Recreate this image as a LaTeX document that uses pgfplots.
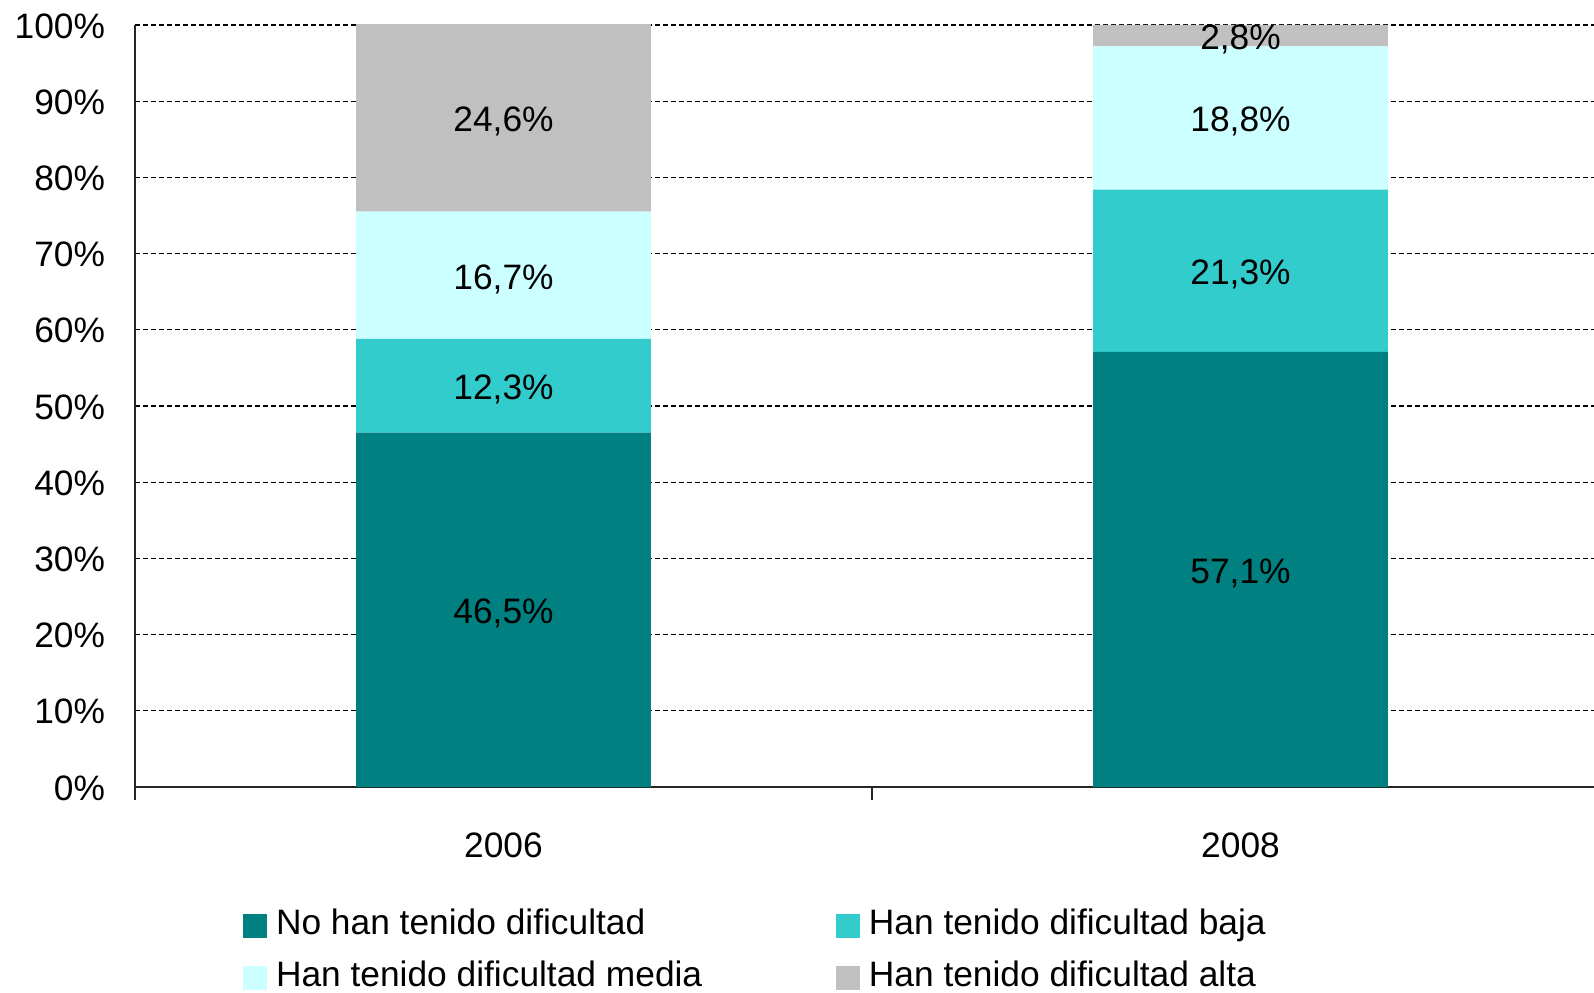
\documentclass[border=0pt]{standalone}
\usepackage{fontspec}
\setmainfont{Liberation Sans}
\usepackage{pgfplots}
\pgfplotsset{compat=1.18}
\usepackage{pgfplotstable}
\definecolor{cNone}{HTML}{008080}
\definecolor{cBaja}{HTML}{33CCCC}
\definecolor{cMedia}{HTML}{CCFFFF}
\definecolor{cAlta}{HTML}{C0C0C0}

\pgfplotstableread{
x none baja media alta
0 46.5 12.3 16.7 24.6
1 57.1 21.3 18.8 2.8
}\datatable

\pgfplotstableread{
x y v
0 23.25 46.5
0 52.65 12.3
0 67.15 16.7
0 87.8 24.6
1 28.55 57.1
1 67.75 21.3
1 87.8 18.8
1 98.6 2.8
}\labeltable

\begin{document}
\begin{tikzpicture}[font=\fontsize{10.6}{12.7}\selectfont]
\useasboundingbox (0,0) rectangle (478.2pt,297.6pt);
\begin{axis}[
  scale only axis,
  width=442.2pt, height=228.6pt,
  at={(40.5pt,61.5pt)}, anchor=south west,
  ybar stacked, bar width=0.4,
  xmin=-0.5, xmax=1.5, ymin=0, ymax=100,
  axis lines=left,
  axis line style={-, line width=0.6pt, black!85},
  xtick={-0.5,0.5,1.5},
  x tick label as interval,
  xticklabels={2006,2008},
  ytick={0,10,...,100},
  yticklabels={0\%,10\%,20\%,30\%,40\%,50\%,60\%,70\%,80\%,90\%,100\%},
  ymajorgrids,
  grid style={black, line width=0.4pt, dash pattern=on 1.5pt off 0.9pt},
  tick align=outside,
  xtick style={black!85, line width=0.6pt},
  ytick style={draw=none},
  major tick length=3.8pt,
  yticklabel style={inner sep=0pt, anchor=east, xshift=-5.0pt, yshift=-0.3pt},
  xticklabel style={inner sep=0pt, anchor=north, yshift=-9.8pt},
  legend columns=2,
  legend cell align=left,
  legend style={draw=none, fill=none, inner sep=0pt,
    at={(0.0726,-0.1600)}, anchor=north west,
    row sep=5.8pt,
    nodes={inner xsep=2.7pt, inner ysep=0pt, text height=7.6pt, text depth=2.2pt},
    /tikz/every odd column/.style={column sep=0pt},
    /tikz/every even column/.style={column sep=37.3pt}},
]
\addplot[fill=cNone, draw=none, legend image code/.code={\fill[cNone] (0pt,-3.65pt) rectangle (7.3pt,3.65pt);}] table[x=x,y=none]{\datatable};
\addlegendentry{No han tenido dificultad}
\addplot[fill=cBaja, draw=none, legend image code/.code={\fill[cBaja] (0pt,-3.65pt) rectangle (7.3pt,3.65pt);}] table[x=x,y=baja]{\datatable};
\addlegendentry{Han tenido dificultad baja}
\addplot[fill=cMedia, draw=none, legend image code/.code={\fill[cMedia] (0pt,-3.65pt) rectangle (7.3pt,3.65pt);}] table[x=x,y=media]{\datatable};
\addlegendentry{Han tenido dificultad media}
\addplot[fill=cAlta, draw=none, legend image code/.code={\fill[cAlta] (0pt,-3.65pt) rectangle (7.3pt,3.65pt);}] table[x=x,y=alta]{\datatable};
\addlegendentry{Han tenido dificultad alta}
\end{axis}
\begin{axis}[
  scale only axis,
  width=442.2pt, height=228.6pt,
  at={(40.5pt,61.5pt)}, anchor=south west,
  xmin=-0.5, xmax=1.5, ymin=0, ymax=100,
  hide axis, clip=false,
]
\addplot[draw=none, mark=none, point meta=explicit,
  nodes near coords={\pgfmathprintnumber[fixed, fixed zerofill, precision=1, use comma, assume math mode=true]{\pgfplotspointmeta}\%},
  every node near coord/.style={anchor=center, inner sep=0pt, text=black, yshift=-1.1pt}]
  table[x=x,y=y,meta=v]{\labeltable};
\end{axis}
\end{tikzpicture}
\end{document}
